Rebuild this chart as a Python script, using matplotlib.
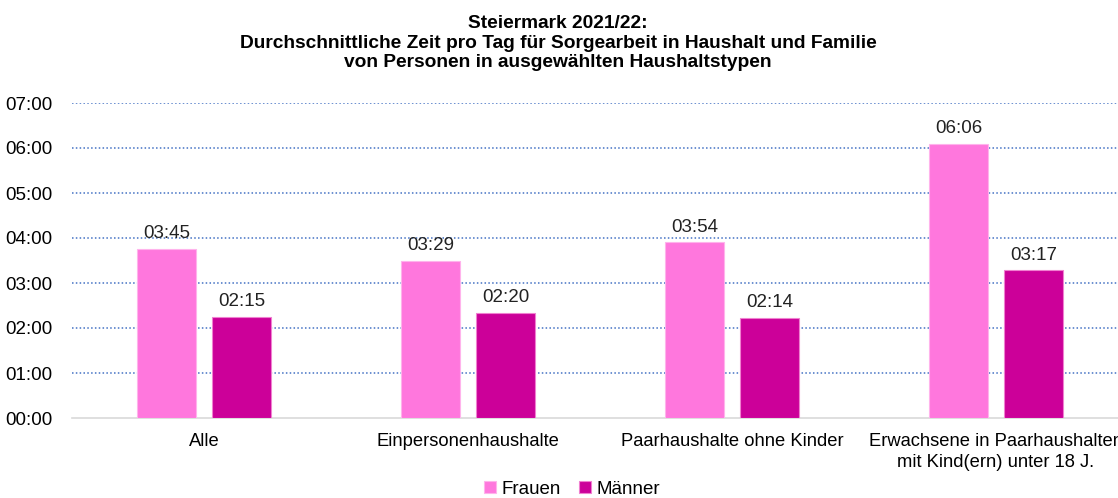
import matplotlib.pyplot as plt
import numpy as np

plt.rcParams['font.family'] = ['Liberation Sans', 'DejaVu Sans']

kategorien = ['Alle', 'Einpersonenhaushalte', 'Paarhaushalte ohne Kinder',
              'Erwachsene in Paarhaushalten\nmit Kind(ern) unter 18 J.']
# Minuten pro Tag
frauen = [225, 209, 234, 366]
maenner = [135, 140, 134, 197]
ticks = ['00:00', '01:00', '02:00', '03:00', '04:00', '05:00', '06:00', '07:00']

c_frauen = '#FF77DD'
c_maenner = '#CC0099'

def hhmm(m):
    return '%02d:%02d' % (m // 60, m % 60)

fig = plt.figure(figsize=(11.18, 4.98), dpi=100)
ax = fig.add_axes([72 / 1118, 80 / 498, 1056 / 1118, 315 / 498])

x = np.arange(len(kategorien))
w = 0.22
off = 0.142
hf = [v / 60 for v in frauen]
hm = [v / 60 for v in maenner]
bf = ax.bar(x - off, hf, w, color=c_frauen, edgecolor='#FFB3EC', linewidth=0.8, label='Frauen', zorder=3)
bm = ax.bar(x + off, hm, w, color=c_maenner, edgecolor='#F080D0', linewidth=0.8, label='Männer', zorder=3)

for xi, v in zip(x - off, frauen):
    ax.text(xi, v / 60 + 0.15, hhmm(v), ha='center', va='bottom', fontsize=13.5, color='#222222')
for xi, v in zip(x + off, maenner):
    ax.text(xi, v / 60 + 0.15, hhmm(v), ha='center', va='bottom', fontsize=13.5, color='#222222')

ax.set_xlim(-0.5, len(kategorien) - 0.5)
ax.set_ylim(0, 7)
ax.set_yticks(range(len(ticks)))
ax.set_yticklabels(ticks, fontsize=13.5)
ax.set_xticks(x)
ax.set_xticklabels(kategorien, fontsize=13.2, linespacing=1.25)
ax.tick_params(length=0, pad=11)
ax.tick_params(axis='y', pad=14)

for yv in range(1, 8):
    ax.axhline(yv, color='#4472C4', linestyle=(0, (1, 1.5)), linewidth=1.1, zorder=1)

for s in ['top', 'right', 'left']:
    ax.spines[s].set_visible(False)
ax.spines['bottom'].set_color('#D9D9D9')
ax.spines['bottom'].set_linewidth(1.2)

fig.text(558 / 1118, 1 - 43 / 498,
         'Steiermark 2021/22:\nDurchschnittliche Zeit pro Tag für Sorgearbeit in Haushalt und Familie\n'
         'von Personen in ausgewählten Haushaltstypen',
         ha='center', va='center', fontsize=13.8, fontweight='bold', linespacing=1.2,
         transform=fig.transFigure)

fig.legend(handles=[bf, bm], loc='center', bbox_to_anchor=(572 / 1118, 1 - 489 / 498),
           ncol=2, frameon=False, fontsize=13.5, handlelength=0.6, handleheight=0.6,
           handletextpad=0.3, columnspacing=1.0)

fig.savefig('out.png', dpi=100)
